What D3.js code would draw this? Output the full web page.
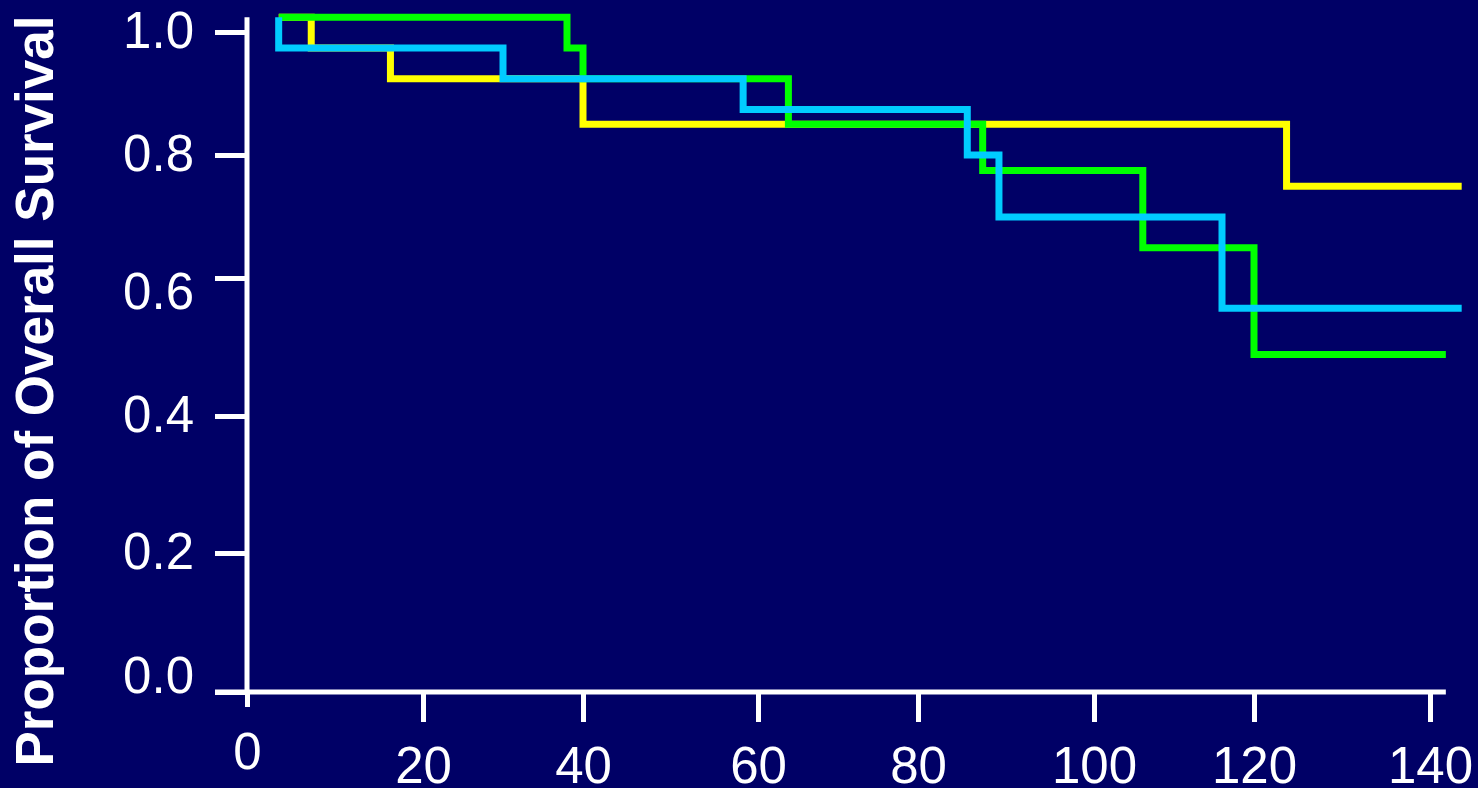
<!DOCTYPE html>
<html><head><meta charset="utf-8">
<script src="https://cdn.jsdelivr.net/npm/d3@7"></script>
<style>html,body{margin:0;padding:0;background:#000066;overflow:hidden}</style>
</head><body><svg id="chart" width="1478" height="788"></svg>
<script>
// ---- data ----
const yTicks = [0, 0.2, 0.4, 0.6, 0.8, 1.0];
const yTickLabels = ["0.0", "0.2", "0.4", "0.6", "0.8", "1.0"];
const xTicks = [0, 20, 40, 60, 80, 100, 120, 140];
const xTickLabels = ["0", "20", "40", "60", "80", "100", "120", "140"];
const yellowTimes = [3.6, 7.3, 16.3, 40.0, 123.7, 143.6];
const yellowSurv  = [1.024, 0.974, 0.924, 0.85, 0.749, 0.749];
const greenTimes  = [3.65, 38.0, 40.0, 63.8, 87.35, 106.1, 120.0, 141.8];
const greenSurv   = [1.024, 0.974, 0.924, 0.85, 0.775, 0.649, 0.489, 0.489];
const cyanTimes   = [3.6, 3.6, 30.0, 58.3, 85.6, 89.2, 116.0, 143.6];
const cyanSurv    = [1.024, 0.974, 0.924, 0.874, 0.8, 0.699, 0.556, 0.556];
const yAxisTitle = "Proportion of Overall Survival";

// ---- layout ----
const svg = d3.select("#chart");
const FONT = "'Liberation Sans', Arial, sans-serif";
const x = d3.scaleLinear().domain(xTicks).range([247, 423, 583, 758, 918, 1094, 1254, 1430]);
const y = d3.scaleLinear().domain(yTicks).range([692, 553, 416, 278, 155, 32]);

// axes lines
const axisW = 5;
svg.append("line").attr("x1", x(0)).attr("x2", x(0))
  .attr("y1", y(1.024)).attr("y2", y(0))
  .attr("stroke", "#fff").attr("stroke-width", axisW);
svg.append("line").attr("x1", x(0) - 32).attr("x2", x(141.8))
  .attr("y1", y(0)).attr("y2", y(0))
  .attr("stroke", "#fff").attr("stroke-width", axisW);

// y axis ticks
const yLabelShift = v => v === 0 ? -17 : (v === 0.6 ? 13 : -2);
const gy = svg.append("g").attr("transform", `translate(${x(0)},0)`)
  .call(d3.axisLeft(y).tickValues(yTicks).tickFormat((d, i) => yTickLabels[i])
    .tickSize(32).tickPadding(21));
gy.select(".domain").remove();
gy.attr("color", "#fff").attr("font-family", FONT).attr("font-size", 51);
gy.selectAll(".tick line").attr("stroke-width", axisW);
gy.selectAll(".tick text").attr("dy", "0.35em")
  .attr("transform", d => `translate(0,${yLabelShift(d)})`);

// x axis ticks
const gx = svg.append("g").attr("transform", `translate(0,${y(0)})`)
  .call(d3.axisBottom(x).tickValues(xTicks).tickFormat((d, i) => xTickLabels[i])
    .tickSize(30).tickPadding(25));
gx.select(".domain").remove();
gx.attr("color", "#fff").attr("font-family", FONT).attr("font-size", 51);
gx.selectAll(".tick line").attr("stroke-width", axisW)
  .attr("y2", d => d === 0 ? 15 : 30);
gx.selectAll(".tick text").attr("y", d => d === 0 ? 41 : 55);

// y axis title
svg.append("text")
  .attr("transform", "translate(53,391) rotate(-90)")
  .attr("text-anchor", "middle")
  .attr("font-family", FONT).attr("font-weight", "bold").attr("font-size", 53)
  .attr("fill", "#fff").text(yAxisTitle);

// curves
const line = d3.line().x(d => x(d.t)).y(d => y(d.s)).curve(d3.curveStepAfter);
const series = [
  { times: yellowTimes, surv: yellowSurv, color: "#ffff00" },
  { times: greenTimes, surv: greenSurv, color: "#00ff00" },
  { times: cyanTimes, surv: cyanSurv, color: "#00ccff" }
];
series.forEach(s => {
  const pts = s.times.map((t, i) => ({ t, s: s.surv[i] }));
  svg.append("path").datum(pts).attr("d", line)
    .attr("fill", "none").attr("stroke", s.color).attr("stroke-width", 7)
    .attr("stroke-linejoin", "miter").attr("stroke-linecap", "butt");
});
</script></body></html>
